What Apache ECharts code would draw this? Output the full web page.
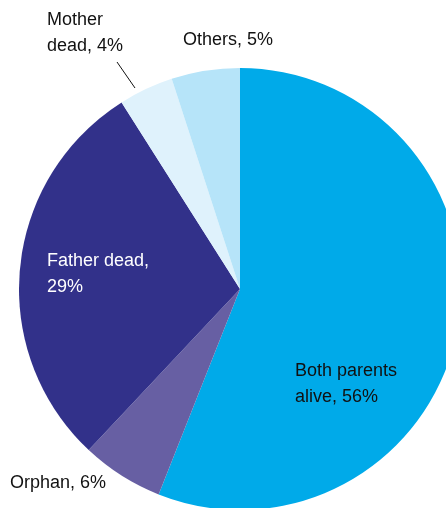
<!DOCTYPE html>
<html>
<head>
<meta charset="utf-8">
<script src="https://cdn.jsdelivr.net/npm/echarts@6/dist/echarts.min.js"></script>
<style>
  html, body { margin: 0; padding: 0; background: #fff; }
  #chart { width: 446px; height: 508px; }
</style>
</head>
<body>
<div id="chart"></div>
<script>
// Parental status shares (%), clockwise from 12 o'clock
const names = ['Both parents alive', 'Orphan', 'Father dead', 'Mother dead', 'Others'];
const shares = [56, 6, 29, 4, 5];
const colors = ['#00aae9', '#675fa3', '#32318a', '#dff2fc', '#b6e4f9'];

// label text for each slice
function labelText(i) {
  switch (i) {
    case 0: return 'Both parents\nalive, ' + shares[0] + '%';
    case 1: return 'Orphan, ' + shares[1] + '%';
    case 2: return 'Father dead,\n' + shares[2] + '%';
    case 3: return 'Mother\ndead, ' + shares[3] + '%';
    default: return 'Others, ' + shares[4] + '%';
  }
}

// label anchor placement (left edge x, vertical centre y)
const labelPos = [
  { x: 295, y: 384 },
  { x: 10, y: 483 },
  { x: 47, y: 274 },
  { x: 47, y: 33 },
  { x: 183, y: 40 }
];

const chart = echarts.init(document.getElementById('chart'), null, { renderer: 'canvas' });

chart.setOption({
  animation: false,
  series: [{
    type: 'pie',
    center: [240, 289],
    radius: [0, 221],
    startAngle: 90,
    clockwise: true,
    avoidLabelOverlap: false,
    emphasis: { disabled: true },
    itemStyle: { borderWidth: 0 },
    label: {
      show: true,
      position: 'outside',
      fontFamily: 'Liberation Sans, Arial, sans-serif',
      fontSize: 18,
      lineHeight: 26,
      color: '#111',
      align: 'left',
      formatter: p => labelText(p.dataIndex)
    },
    labelLine: { show: false, lineStyle: { color: '#111', width: 1 } },
    labelLayout: function (params) {
      const pos = labelPos[params.dataIndex];
      const out = { x: pos.x, y: pos.y, align: 'left', verticalAlign: 'middle' };
      if (params.dataIndex === 3) {
        out.labelLinePoints = [[135, 88], [117, 62], [117, 62]];
      }
      return out;
    },
    data: shares.map((v, i) => ({
      name: names[i],
      value: v,
      itemStyle: { color: colors[i] },
      label: i === 2 ? { color: '#fff' } : {},
      labelLine: i === 3 ? { show: true } : { show: false }
    }))
  }]
});
</script>
</body>
</html>
